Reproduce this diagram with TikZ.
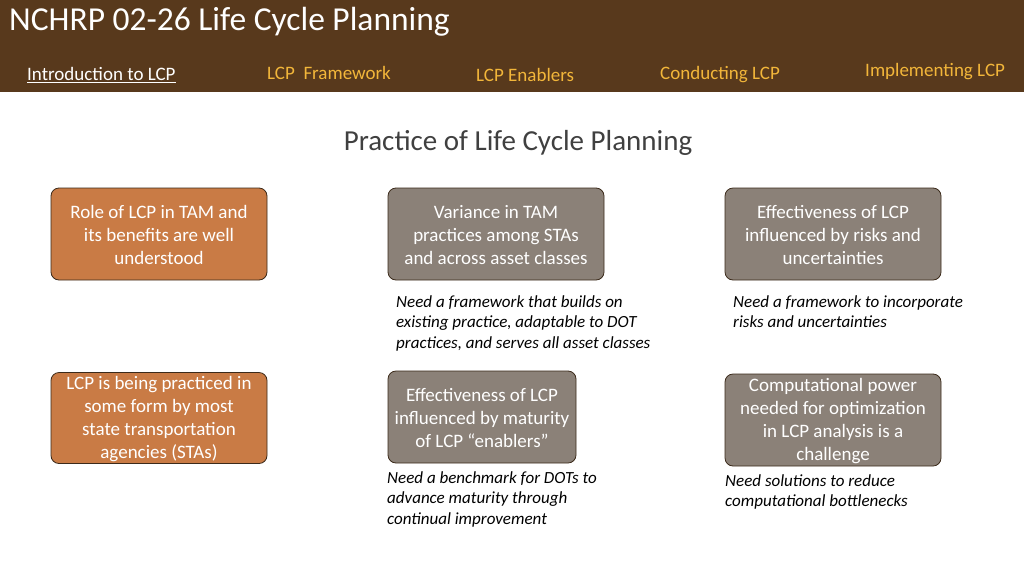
\documentclass[tikz,border=0pt]{standalone}
\usepackage{fontspec}
\setmainfont{Carlito}
\definecolor{band}{HTML}{58391C}
\definecolor{navtext}{HTML}{F2B63A}
\definecolor{orangebox}{HTML}{C97B45}
\definecolor{graybox}{HTML}{8B8178}
\definecolor{boxline}{HTML}{3B2A1A}
\tikzset{
  card/.style={draw=boxline, line width=0.8pt, rounded corners=8pt, text=white,
    align=center, font=\fontsize{19}{23}\selectfont, inner sep=0pt},
  orangecard/.style={card, fill=orangebox},
  graycard/.style={card, fill=graybox},
  note/.style={anchor=north west, align=left, font=\fontsize{17}{20.5}\selectfont\itshape, inner sep=0pt},
  navitem/.style={anchor=west, text=navtext, font=\fontsize{19}{21}\selectfont, inner sep=0pt}
}
\begin{document}
\begin{tikzpicture}[x=1pt, y=-1pt]
  \useasboundingbox (0,0) rectangle (1024,576);
  \fill[white] (0,0) rectangle (1024,576);
  \fill[band] (0,0) rectangle (1024,92);
  % header
  \node[anchor=west, text=white, font=\fontsize{33.5}{36}\selectfont, inner sep=0pt] (title) at (9,22) {NCHRP 02-26 Life Cycle Planning};
  \node[navitem, text=white] (intro) at (27,75) {\underline{Introduction to LCP}};
  \node[navitem] (frame) at (267,73) {LCP\ \ Framework};
  \node[navitem] (enab) at (476,75) {LCP Enablers};
  \node[navitem] (cond) at (660,75) {Conducting LCP};
  \node[navitem] (impl) at (865,72) {Implementing LCP};
  \node[text=black!75, font=\fontsize{29}{32}\selectfont] (head) at (518,143) {Practice of Life Cycle Planning};
  % cards
  \node[orangecard, minimum width=216pt, minimum height=92pt] (role) at (159,234)
    {\strut Role of LCP in TAM and\\its benefits are well\\understood};
  \node[graycard, minimum width=216pt, minimum height=92pt] (var) at (496,234)
    {\strut Variance in TAM\\practices among STAs\\and across asset classes};
  \node[graycard, minimum width=216pt, minimum height=92pt] (eff) at (833,234)
    {\strut Effectiveness of LCP\\influenced by risks and\\uncertainties};
  \node[orangecard, minimum width=216pt, minimum height=91pt] (pract) at (159,418)
    {\strut LCP is being practiced in\\some form by most\\state transportation\\agencies (STAs)};
  \node[graycard, minimum width=188pt, minimum height=92pt] (mat) at (482,417)
    {\strut Effectiveness of LCP\\influenced by maturity\\of LCP “enablers”};
  \node[graycard, minimum width=216pt, minimum height=92pt] (comp) at (833,420)
    {\strut Computational power\\needed for optimization\\in LCP analysis is a\\challenge};
  % notes
  \node[note] (n1) at (396,295) {Need a framework that builds on\\existing practice, adaptable to DOT\\practices, and serves all asset classes};
  \node[note] (n2) at (733,295) {Need a framework to incorporate\\risks and uncertainties};
  \node[note] (n3) at (387,471) {Need a benchmark for DOTs to\\advance maturity through\\continual improvement};
  \node[note] (n4) at (725,474) {Need solutions to reduce\\computational bottlenecks};
\end{tikzpicture}
\end{document}
